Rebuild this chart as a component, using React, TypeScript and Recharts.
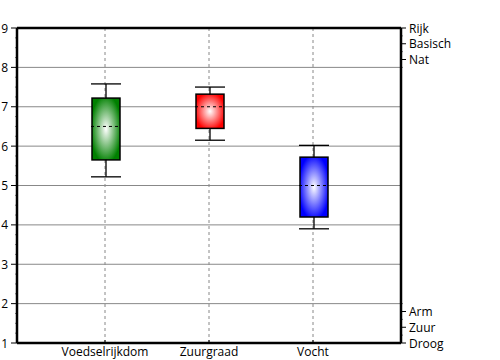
import React from 'react';
import { ComposedChart, Bar, XAxis, YAxis, CartesianGrid, ReferenceLine } from 'recharts';

// Box plot values
const categories = ['Voedselrijkdom', 'Zuurgraad', 'Vocht'];
const minValues = [5.22, 6.15, 3.9];
const q1Values = [5.65, 6.45, 4.2];
const medianValues = [6.5, 7.0, 5.0];
const q3Values = [7.22, 7.32, 5.72];
const maxValues = [7.58, 7.5, 6.02];

// Axis ticks
const leftTicks = [
  1, 1.25, 1.5, 1.75, 2, 2.25, 2.5, 2.75, 3, 3.25, 3.5, 3.75, 4, 4.25, 4.5, 4.75, 5,
  5.25, 5.5, 5.75, 6, 6.25, 6.5, 6.75, 7, 7.25, 7.5, 7.75, 8, 8.25, 8.5, 8.75, 9,
];
const leftLabels = [1, 2, 3, 4, 5, 6, 7, 8, 9];
const gridValues = [2, 3, 4, 5, 6, 7, 8];
const rightTicks = [1, 1.2, 1.4, 1.6, 1.8, 2, 8, 8.2, 8.4, 8.6, 8.8, 9];
const rightTickValues = [9, 8.6, 8.2, 1.8, 1.4, 1];
const rightTickLabels = ['Rijk', 'Basisch', 'Nat', 'Arm', 'Zuur', 'Droog'];

const boxColors = ['#008000', '#ff0000', '#0000ff'];
const FONT = '"Open Sans", sans-serif';

const data = categories.map((name, i) => ({
  name,
  whisker: [minValues[i], maxValues[i]],
  box: [q1Values[i], q3Values[i]],
  q1: q1Values[i],
  q3: q3Values[i],
  median: medianValues[i],
}));

const WhiskerShape = (props: any) => {
  const { x, y, width, height } = props;
  const top = Math.min(y, y + height);
  const bottom = Math.max(y, y + height);
  const cx = x + width / 2;
  return (
    <g stroke="#000" strokeWidth={1.3}>
      <line x1={cx} y1={top} x2={cx} y2={bottom} />
      <line x1={x} y1={top} x2={x + width} y2={top} />
      <line x1={x} y1={bottom} x2={x + width} y2={bottom} />
    </g>
  );
};

const BoxShape = (props: any) => {
  const { x, y, width, height, payload, index } = props;
  const top = Math.min(y, y + height);
  const h = Math.abs(height);
  const medY = top + (h * (payload.q3 - payload.median)) / (payload.q3 - payload.q1);
  const id = `boxGrad${index}`;
  return (
    <g>
      <defs>
        <radialGradient id={id} cx="50%" cy="50%" r="55%">
          <stop offset="0%" stopColor="#ffffff" />
          <stop offset="100%" stopColor={boxColors[index]} />
        </radialGradient>
      </defs>
      <rect x={x} y={top} width={width} height={h} fill={`url(#${id})`} stroke="#000" strokeWidth={1.5} />
      <line x1={x - 1} y1={medY} x2={x + width + 1} y2={medY} stroke="#000" strokeWidth={1} strokeDasharray="3 3" />
    </g>
  );
};

const LeftTick = (props: any) => {
  const { x, y, payload } = props;
  const major = leftLabels.includes(payload.value);
  return (
    <g>
      <line x1={x - (major ? 6 : 1.5)} y1={y} x2={x} y2={y} stroke="#000" strokeWidth={1} />
      {major && (
        <text x={x - 9} y={y} dy={4.5} textAnchor="end" fontFamily={FONT} fontSize={12} fill="#000">
          {payload.value}
        </text>
      )}
    </g>
  );
};

const RightTick = (props: any) => {
  const { x, y, payload } = props;
  const idx = rightTickValues.indexOf(payload.value);
  return (
    <g>
      <line x1={x} y1={y} x2={x + (idx >= 0 ? 5 : 1.5)} y2={y} stroke="#000" strokeWidth={1} />
      {idx >= 0 && (
        <text x={x + 8} y={y} dy={4.5} textAnchor="start" fontFamily={FONT} fontSize={12} fill="#000">
          {rightTickLabels[idx]}
        </text>
      )}
    </g>
  );
};

const BottomTick = (props: any) => {
  const { x, y, payload } = props;
  return (
    <g>
      <line x1={x} y1={y} x2={x} y2={y - 3} stroke="#000" strokeWidth={1} />
      <text x={x} y={y} dy={13} textAnchor="middle" fontFamily={FONT} fontSize={12} fill="#000">
        {payload.value}
      </text>
    </g>
  );
};

const App: React.FC = () => {
  return (
    <div style={{ position: 'absolute', left: 0, top: 0, width: 500, height: 360, background: '#fff' }}>
      <ComposedChart
        width={500}
        height={360}
        data={data}
        margin={{ top: 28, right: 0, bottom: 0, left: 0 }}
        barGap={-29}
      >
        <CartesianGrid horizontal={false} vertical={true} stroke="#888" strokeDasharray="3 3" />
        <CartesianGrid horizontal={true} vertical={false} horizontalValues={gridValues} stroke="#888" />
        <XAxis
          dataKey="name"
          height={17}
          padding={{ left: 36, right: 36 }}
          axisLine={{ stroke: '#000', strokeWidth: 2.5 }}
          tickLine={false}
          tickSize={0}
          tickMargin={0}
          tick={<BottomTick />}
          interval={0}
        />
        <YAxis
          domain={[1, 9]}
          ticks={leftTicks}
          interval={0}
          width={17}
          axisLine={{ stroke: '#000', strokeWidth: 2.5 }}
          tickLine={false}
          tickSize={0}
          tickMargin={0}
          tick={<LeftTick />}
        />
        <YAxis
          yAxisId="right"
          orientation="right"
          domain={[1, 9]}
          allowDataOverflow
          ticks={rightTicks}
          interval={0}
          width={99}
          axisLine={{ stroke: '#000', strokeWidth: 2.5 }}
          tickLine={false}
          tickSize={0}
          tickMargin={0}
          tick={<RightTick />}
        />
        <ReferenceLine y={9} stroke="#000" strokeWidth={2.5} />
        <Bar dataKey="whisker" barSize={30} shape={<WhiskerShape />} isAnimationActive={false} />
        <Bar dataKey="box" barSize={28} shape={<BoxShape />} isAnimationActive={false} />
      </ComposedChart>
    </div>
  );
};

export default App;
